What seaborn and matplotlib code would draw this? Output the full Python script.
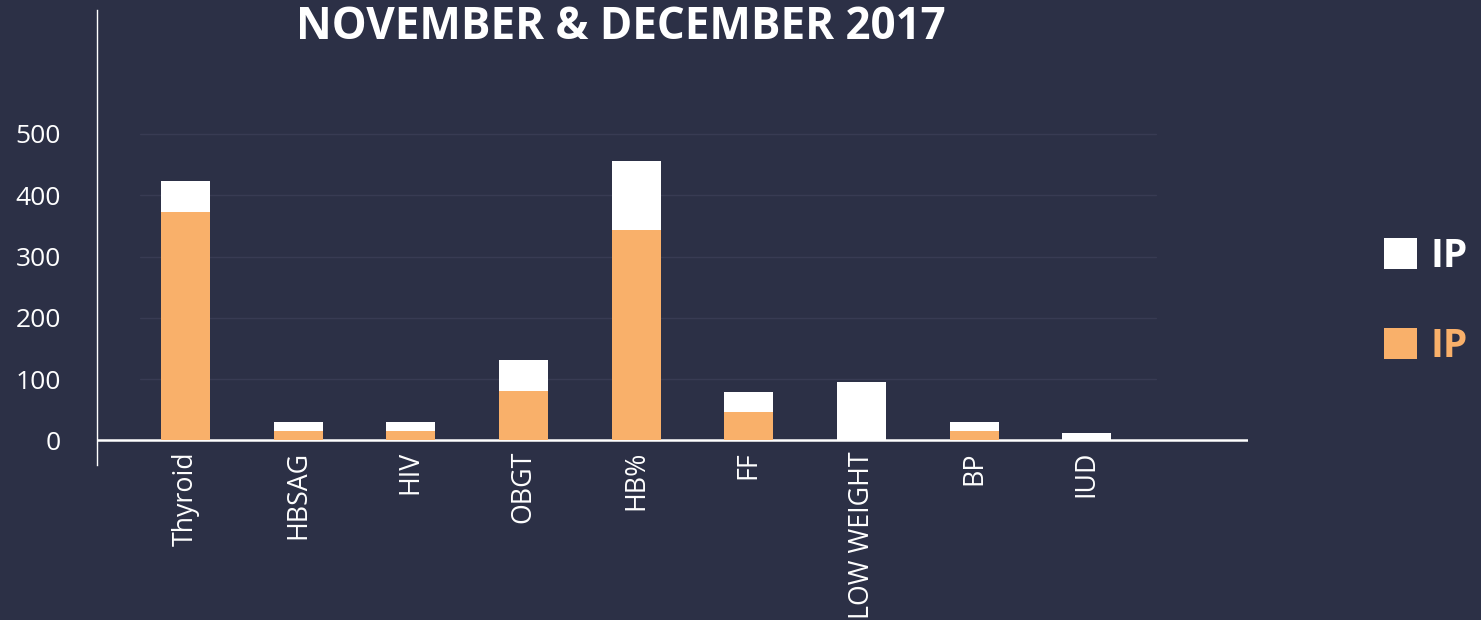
import matplotlib
matplotlib.use("Agg")
import matplotlib.pyplot as plt
import seaborn as sns
import pandas as pd
from matplotlib.patches import Patch

categories = ["Thyroid", "HBSAG", "HIV", "OBGT", "HB%", "FF", "LOW WEIGHT", "BP", "IUD"]
ip_orange = [373, 15, 15, 81, 343, 47, 0, 15, 0]
ip_white = [50, 15, 15, 50, 112, 32, 95, 15, 12]
yticks = [0, 100, 200, 300, 400, 500]
title = "NOVEMBER & DECEMBER 2017"
legend_labels = ["IP", "IP"]

BG = "#2c3046"
ORANGE = "#f9b06a"
WHITE = "#ffffff"

sns.set_theme(style="dark")
plt.rcParams["font.family"] = ["Open Sans", "DejaVu Sans"]

df = pd.DataFrame({
    "cat": categories,
    "orange": ip_orange,
    "total": [a + b for a, b in zip(ip_orange, ip_white)],
})

fig = plt.figure(figsize=(14.81, 6.20), dpi=100, facecolor=BG)
ax = fig.add_axes([97 / 1481, 1 - 465 / 620, (1248 - 97) / 1481, (465 - 10) / 620])
ax.set_facecolor(BG)

sns.barplot(data=df, x="cat", y="total", color=WHITE, width=0.435,
            saturation=1, ax=ax, zorder=3, linewidth=0)
sns.barplot(data=df, x="cat", y="orange", color=ORANGE, width=0.435,
            saturation=1, ax=ax, zorder=4, linewidth=0)

ax.set_xlim(-0.785, 9.43)
ax.set_ylim(-40, 702)
ax.set_yticks(yticks)
ax.set_yticklabels([str(v) for v in yticks], color="white", fontsize=19)
ax.set_xlabel("")
ax.set_ylabel("")
ax.tick_params(axis="y", length=0, pad=26)
ax.tick_params(axis="x", length=0, pad=-10, labelrotation=90, labelsize=19.3, labelcolor="white")
for lab in ax.get_xticklabels():
    lab.set_va("top")

ax.grid(False)
for v in yticks[1:]:
    ax.axhline(v, xmin=0.037, xmax=0.92, color="#383b53", lw=1, zorder=1)
ax.axhline(0, color="white", lw=1.8, zorder=2)

for s in ["top", "right", "bottom"]:
    ax.spines[s].set_visible(False)
ax.spines["left"].set_color("white")
ax.spines["left"].set_linewidth(1)

fig.text(621 / 1481, 1 - 5 / 620, title, color="white", fontsize=31.6,
         fontweight="bold", ha="center", va="top")

handles = [Patch(facecolor=WHITE, edgecolor="none"), Patch(facecolor=ORANGE, edgecolor="none")]
leg = fig.legend(handles, legend_labels, loc="upper left",
                 bbox_to_anchor=(1384 / 1481, 1 - 237 / 620),
                 frameon=False, handlelength=0.85, handleheight=0.85,
                 handletextpad=0.35, labelspacing=1.3, borderpad=0, borderaxespad=0,
                 prop={"weight": "bold", "size": 28})
for t, c in zip(leg.get_texts(), [WHITE, ORANGE]):
    t.set_color(c)

fig.savefig("out.png", dpi=100, facecolor=BG)
